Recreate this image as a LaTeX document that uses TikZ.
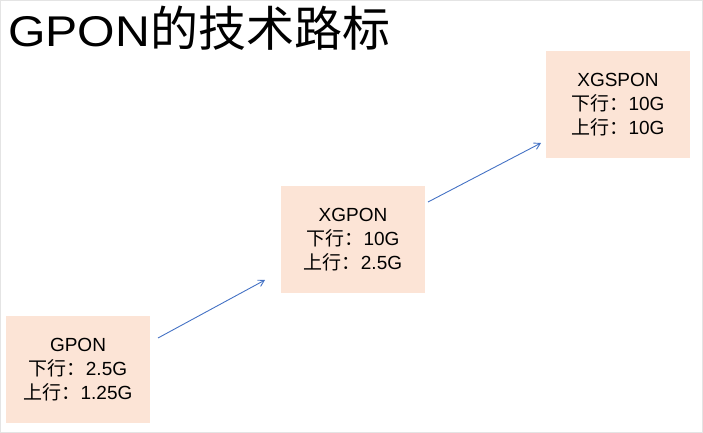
\documentclass[tikz,border=0pt]{standalone}
\usepackage{fontspec}
\setmainfont{Liberation Sans}
\newfontfamily\cjk{Noto Sans CJK SC}
\usetikzlibrary{arrows.meta}
\definecolor{peach}{RGB}{252,228,214}
\definecolor{arrowblue}{RGB}{68,114,196}
\definecolor{framegray}{RGB}{228,228,228}
\tikzset{
  stagebox/.style={fill=peach, draw=none, minimum width=144pt, minimum height=107pt,
    align=center, inner sep=0pt, font=\fontsize{19}{24}\selectfont},
  uparrow/.style={draw=arrowblue, line width=0.9pt, -{Straight Barb[length=6pt,width=7pt]}},
}
\begin{document}
\begin{tikzpicture}[x=1pt,y=-1pt]
\useasboundingbox (0,0) rectangle (703,433);
\draw[framegray, line width=0.8pt] (0.5,0.5) rectangle (702.5,432.5);
\node[anchor=base west, inner sep=0pt, font=\fontsize{48}{56}\selectfont] (title) at (8,47) {{\fontsize{43}{50}\selectfont\scalebox{1.12}[1]{GPON}}{\cjk 的技术路标}};
\node[stagebox] (gpon) at (78,369.5) {GPON\\{\cjk 下行：}2.5G\\{\cjk 上行：}1.25G};
\node[stagebox] (xgpon) at (353,239.5) {XGPON\\{\cjk 下行：}10G\\{\cjk 上行：}2.5G};
\node[stagebox] (xgspon) at (618,104.5) {XGSPON\\{\cjk 下行：}10G\\{\cjk 上行：}10G};
\coordinate (a1s) at (158,338);
\coordinate (a1e) at (265,280);
\coordinate (a2s) at (428,202);
\coordinate (a2e) at (541,143);
\draw[uparrow] (a1s) -- (a1e);
\draw[uparrow] (a2s) -- (a2e);
\end{tikzpicture}
\end{document}
